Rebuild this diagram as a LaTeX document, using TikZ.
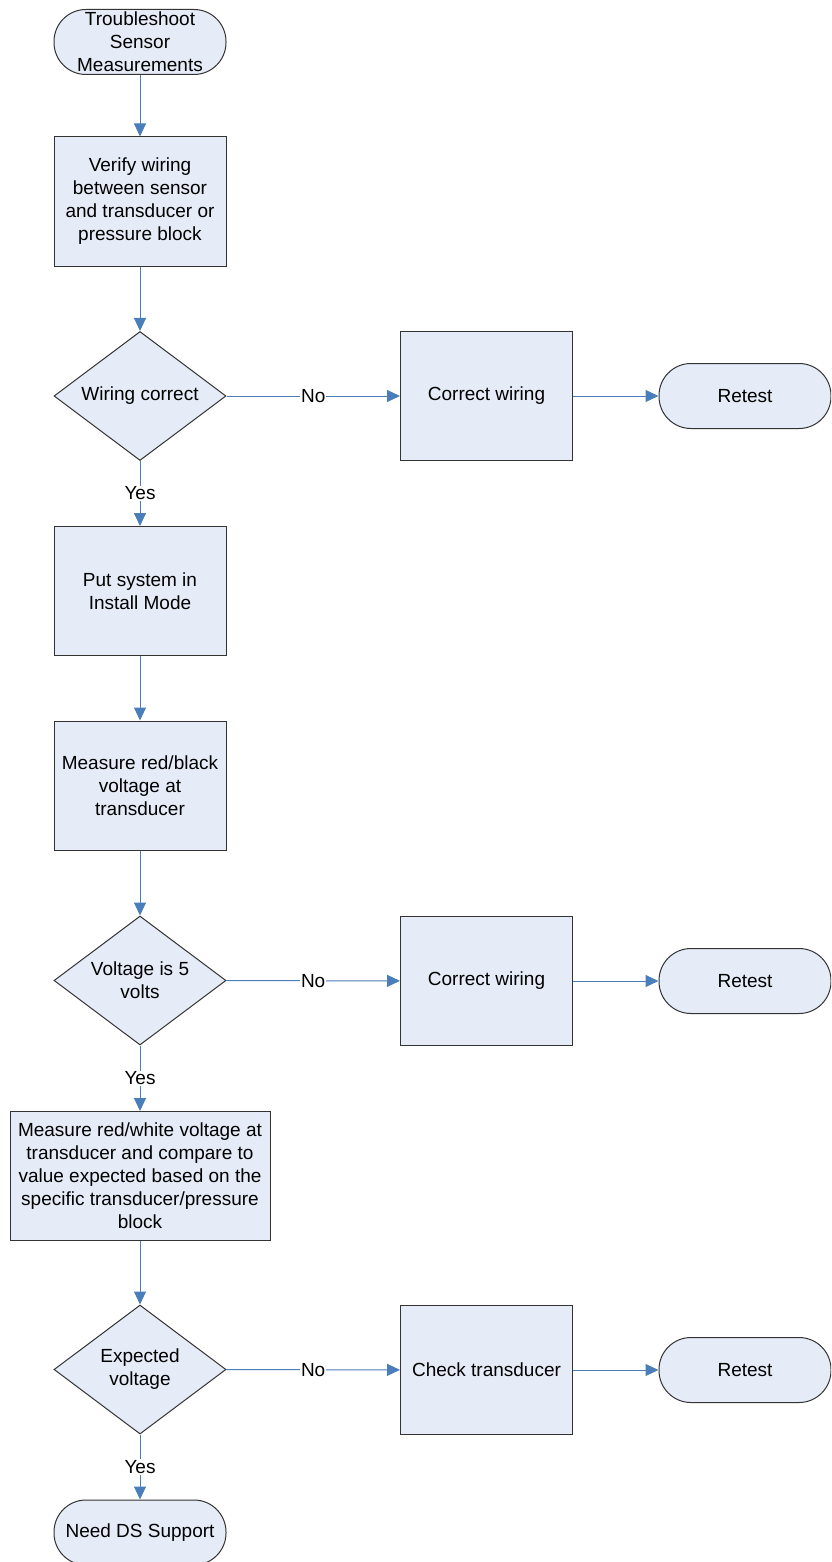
\documentclass[tikz,border=0pt]{standalone}
\usepackage{fontspec}
\setmainfont{Liberation Sans}
\usetikzlibrary{shapes.geometric}
\usetikzlibrary{arrows.meta}

\definecolor{boxfill}{HTML}{E6ECF7}
\definecolor{linkblue}{HTML}{4A7EBB}

\tikzset{
  terminal/.style={draw=black!80, fill=boxfill, rounded corners=32pt, minimum width=172pt, minimum height=65pt, inner sep=1pt, align=center},
  process/.style={draw=black!80, fill=boxfill, minimum width=172pt, minimum height=129pt, inner sep=2pt, align=center},
  decision/.style={draw=black!80, fill=boxfill, diamond, aspect=1.34, minimum width=172pt, minimum height=129pt, inner sep=0pt, align=center},
  flow/.style={draw=linkblue, line width=1pt, -{Triangle[length=13pt,width=12pt]}},
  answer/.style={fill=white, inner sep=1pt, text=black}
}

\begin{document}
\begin{tikzpicture}[x=1pt, y=-1pt, font=\fontsize{19pt}{23pt}\selectfont, line width=1pt]

\clip (0,0) rectangle (831,1562);

% Start
\node[terminal] (start) at (140,42) {Troubleshoot\\Sensor\\Measurements};

% Wiring check
\node[process] (verify) at (140,201.5) {Verify wiring\\between sensor\\and transducer or\\pressure block};
\node[decision] (wiringok) at (140,396) {Wiring correct};
\node[process] (fixwiring) at (486.5,396) {Correct wiring};
\node[terminal] (retesta) at (745,396) {Retest};

% Install mode and supply voltage
\node[process] (install) at (140,591) {Put system in\\Install Mode};
\node[process] (redblack) at (140,785.5) {Measure red/black\\voltage at\\transducer};
\node[decision] (fivevolts) at (140,980.5) {Voltage is 5\\volts};
\node[process] (fixwiringb) at (486.5,981) {Correct wiring};
\node[terminal] (retestb) at (745,981) {Retest};

% Signal voltage
\node[process, minimum width=260pt] (redwhite) at (140,1176) {Measure red/white voltage at\\transducer and compare to\\value expected based on the\\specific transducer/pressure\\block};
\node[decision] (expected) at (140,1369.5) {Expected\\voltage};
\node[process] (transducer) at (486.5,1370) {Check transducer};
\node[terminal] (retestc) at (745,1370) {Retest};

% End
\node[terminal] (support) at (140,1532.5) {Need DS Support};

% Flechas
\draw[flow] (start) -- (verify);
\draw[flow] (verify) -- (wiringok);
\draw[flow] (wiringok) -- node[answer] {No} (fixwiring);
\draw[flow] (fixwiring) -- (retesta);
\draw[flow] (wiringok) -- node[answer] {Yes} (install);
\draw[flow] (install) -- (redblack);
\draw[flow] (redblack) -- (fivevolts);
\draw[flow] (fivevolts) -- node[answer] {No} (fixwiringb);
\draw[flow] (fixwiringb) -- (retestb);
\draw[flow] (fivevolts) -- node[answer] {Yes} (redwhite);
\draw[flow] (redwhite) -- (expected);
\draw[flow] (expected) -- node[answer] {No} (transducer);
\draw[flow] (transducer) -- (retestc);
\draw[flow] (expected) -- node[answer] {Yes} (support);
\end{tikzpicture}
\end{document}
